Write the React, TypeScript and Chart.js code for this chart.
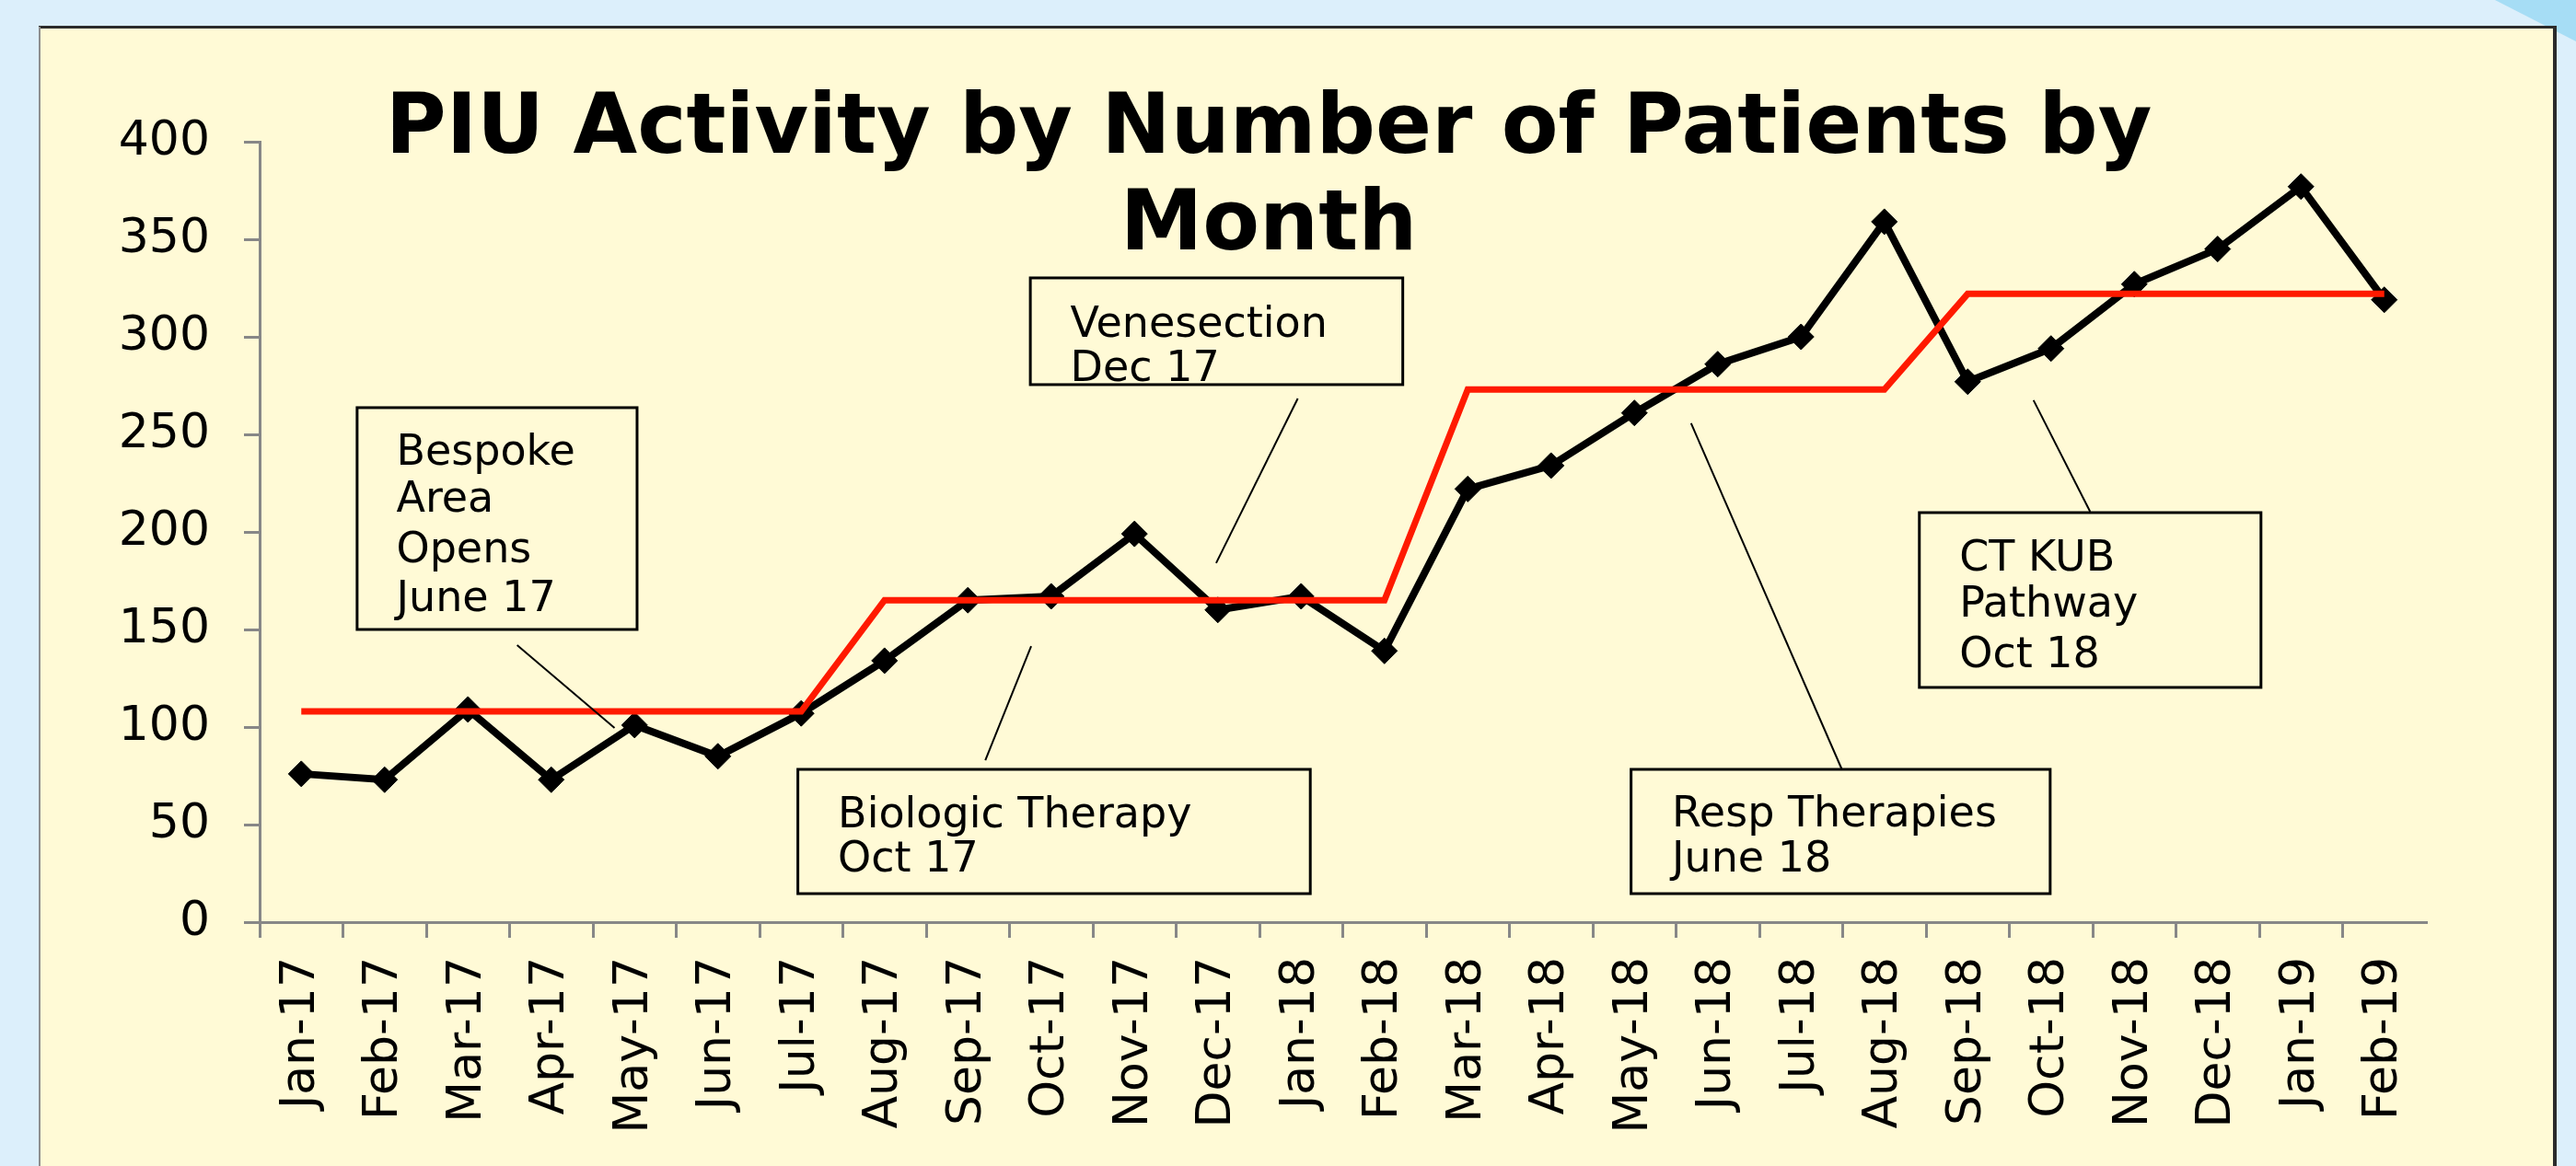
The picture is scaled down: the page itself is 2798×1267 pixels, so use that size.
import React, { useEffect, useRef } from 'react';
import { Chart, registerables } from 'chart.js';

Chart.register(...registerables);

// ---------- data ----------
const months = [
  'Jan-17', 'Feb-17', 'Mar-17', 'Apr-17', 'May-17', 'Jun-17', 'Jul-17', 'Aug-17', 'Sep-17', 'Oct-17',
  'Nov-17', 'Dec-17', 'Jan-18', 'Feb-18', 'Mar-18', 'Apr-18', 'May-18', 'Jun-18', 'Jul-18', 'Aug-18',
  'Sep-18', 'Oct-18', 'Nov-18', 'Dec-18', 'Jan-19', 'Feb-19',
];

const patients = [
  76, 73, 109, 73, 101, 85, 107, 134, 165, 167,
  199, 160, 167, 139, 222, 234, 261, 286, 300, 359,
  277, 294, 327, 345, 377, 319,
];

const periodLevel = [
  108, 108, 108, 108, 108, 108, 108, 165, 165, 165,
  165, 165, 165, 165, 273, 273, 273, 273, 273, 273,
  322, 322, 322, 322, 322, 322,
];

const yTickValues = [0, 50, 100, 150, 200, 250, 300, 350, 400];

const titleLines = ['PIU Activity by Number of Patients by', 'Month'];

// annotation boxes, positioned in data units (category index, value)
const annotationBoxes = [
  { lines: ['Bespoke', 'Area', 'Opens', 'June 17'], x1: 0.67, x2: 4.03, yTop: 263.7, yBottom: 150.0, textX: 1.14, baselines: [234.4, 210.4, 184.4, 159.4] },
  { lines: ['Biologic Therapy', 'Oct 17'], x1: 5.96, x2: 12.11, yTop: 78.3, yBottom: 14.6, textX: 6.44, baselines: [48.6, 25.9] },
  { lines: ['Venesection', 'Dec 17'], x1: 8.75, x2: 13.22, yTop: 330.2, yBottom: 275.5, textX: 9.23, baselines: [300.0, 277.4] },
  { lines: ['Resp Therapies', 'June 18'], x1: 15.96, x2: 20.99, yTop: 78.3, yBottom: 14.6, textX: 16.45, baselines: [49.1, 25.9] },
  { lines: ['CT KUB', 'Pathway', 'Oct 18'], x1: 19.42, x2: 23.52, yTop: 209.9, yBottom: 120.3, textX: 19.9, baselines: [180.2, 156.6, 130.7] },
];

const leaderLines = [
  { from: [2.59, 142.0], to: [3.76, 99.5] },
  { from: [8.21, 83.0], to: [8.76, 141.5] },
  { from: [11.96, 268.4], to: [10.98, 184.0] },
  { from: [16.68, 255.7], to: [18.49, 78.3] },
  { from: [20.79, 267.5], to: [21.47, 210.4] },
];

const W = 2798;
const H = 1267;
const FONT = '"DejaVu Sans", "Noto Sans", sans-serif';
const AXIS_GRAY = '#878787';

const backgroundPlugin = {
  id: 'slideBackground',
  beforeDraw(chart: any) {
    const ctx = chart.ctx;
    ctx.save();
    ctx.fillStyle = '#DCEFFB';
    ctx.fillRect(0, 0, W, H);
    // brighter blue corner decoration
    ctx.fillStyle = '#A6DDF5';
    ctx.beginPath();
    ctx.moveTo(2710, 0);
    ctx.lineTo(W, 0);
    ctx.lineTo(W, 45);
    ctx.closePath();
    ctx.fill();
    // cream panel
    ctx.fillStyle = '#FFFAD6';
    ctx.fillRect(42, 29, 2735, H);
    ctx.strokeStyle = '#2B2B2B';
    ctx.lineWidth = 3;
    ctx.beginPath();
    ctx.moveTo(42, 29.5);
    ctx.lineTo(2777, 29.5);
    ctx.stroke();
    ctx.lineWidth = 4;
    ctx.beginPath();
    ctx.moveTo(2775, 28);
    ctx.lineTo(2775, H);
    ctx.stroke();
    ctx.strokeStyle = '#8E8E8E';
    ctx.lineWidth = 2;
    ctx.beginPath();
    ctx.moveTo(43, 29);
    ctx.lineTo(43, H);
    ctx.stroke();
    ctx.restore();
  },
};

const overlayPlugin = {
  id: 'titleAndNotes',
  afterDraw(chart: any) {
    const ctx = chart.ctx;
    const xs = chart.scales.x;
    const ys = chart.scales.y;
    const px = (v: number) => xs.getPixelForValue(v);
    const py = (v: number) => ys.getPixelForValue(v);
    ctx.save();
    // title
    ctx.fillStyle = '#000';
    ctx.font = `bold 90px ${FONT}`;
    ctx.textAlign = 'center';
    ctx.textBaseline = 'alphabetic';
    ctx.fillText(titleLines[0], 1378, 166);
    ctx.fillText(titleLines[1], 1378, 271);

    // leader lines
    ctx.strokeStyle = '#000';
    ctx.lineWidth = 2;
    leaderLines.forEach((l) => {
      ctx.beginPath();
      ctx.moveTo(px(l.from[0]), py(l.from[1]));
      ctx.lineTo(px(l.to[0]), py(l.to[1]));
      ctx.stroke();
    });

    // boxes
    ctx.font = `46px ${FONT}`;
    ctx.textAlign = 'left';
    annotationBoxes.forEach((b) => {
      const x1 = px(b.x1);
      const x2 = px(b.x2);
      const y1 = py(b.yTop);
      const y2 = py(b.yBottom);
      ctx.fillStyle = '#FFFAD6';
      ctx.fillRect(x1, y1, x2 - x1, y2 - y1);
      ctx.strokeStyle = '#000';
      ctx.lineWidth = 3;
      ctx.strokeRect(x1, y1, x2 - x1, y2 - y1);
      ctx.fillStyle = '#000';
      b.lines.forEach((t, i) => {
        ctx.fillText(t, px(b.textX), py(b.baselines[i]));
      });
    });
    ctx.restore();
  },
};

export default function App() {
  const canvasRef = useRef<HTMLCanvasElement | null>(null);

  useEffect(() => {
    const canvas = canvasRef.current;
    if (!canvas) return;
    Chart.defaults.font.family = FONT;
    const chart = new Chart(canvas, {
      type: 'line',
      data: {
        labels: months,
        datasets: [
          {
            label: 'Period level',
            data: periodLevel,
            borderColor: '#FF1A00',
            backgroundColor: '#FF1A00',
            borderWidth: 7,
            pointRadius: 0,
            pointHoverRadius: 0,
            tension: 0,
            fill: false,
          },
          {
            label: 'Patients',
            data: patients,
            borderColor: '#000000',
            backgroundColor: '#000000',
            borderWidth: 8,
            pointStyle: 'rectRot',
            pointRadius: 14,
            pointBorderWidth: 1,
            pointBackgroundColor: '#000000',
            pointBorderColor: '#000000',
            tension: 0,
            fill: false,
          },
        ],
      },
      options: {
        responsive: false,
        animation: false,
        devicePixelRatio: 1,
        layout: { padding: { left: 42, right: 163, top: 154, bottom: 35 } },
        plugins: {
          legend: { display: false },
          title: { display: false },
          tooltip: { enabled: false },
        },
        scales: {
          x: {
            type: 'category',
            offset: true,
            afterFit: (scale: any) => {
              scale.height = 230;
            },
            grid: {
              offset: true,
              drawOnChartArea: false,
              drawTicks: true,
              tickLength: 17,
              lineWidth: 3,
              color: (c: any) => (c.index === undefined ? 'rgba(0,0,0,0)' : AXIS_GRAY),
            },
            border: { display: true, color: AXIS_GRAY, width: 3 },
            ticks: {
              autoSkip: false,
              minRotation: 90,
              maxRotation: 90,
              padding: 21,
              color: '#000',
              font: { size: 52, family: FONT },
            },
          },
          y: {
            min: 0,
            max: 400,
            afterFit: (scale: any) => {
              scale.width = 240;
            },
            afterBuildTicks: (scale: any) => {
              scale.ticks = yTickValues.map((v) => ({ value: v }));
            },
            grid: {
              drawOnChartArea: false,
              drawTicks: true,
              tickLength: 17,
              lineWidth: 3,
              color: AXIS_GRAY,
            },
            border: { display: true, color: AXIS_GRAY, width: 3 },
            ticks: {
              padding: 37,
              color: '#000',
              font: { size: 52, family: FONT },
            },
          },
        },
      },
      plugins: [backgroundPlugin, overlayPlugin],
    });
    return () => chart.destroy();
  }, []);

  return (
    <div style={{ position: 'fixed', left: 0, top: 0, width: W, height: H, overflow: 'hidden' }}>
      <canvas ref={canvasRef} width={W} height={H} style={{ display: 'block', width: W, height: H }} />
    </div>
  );
}
